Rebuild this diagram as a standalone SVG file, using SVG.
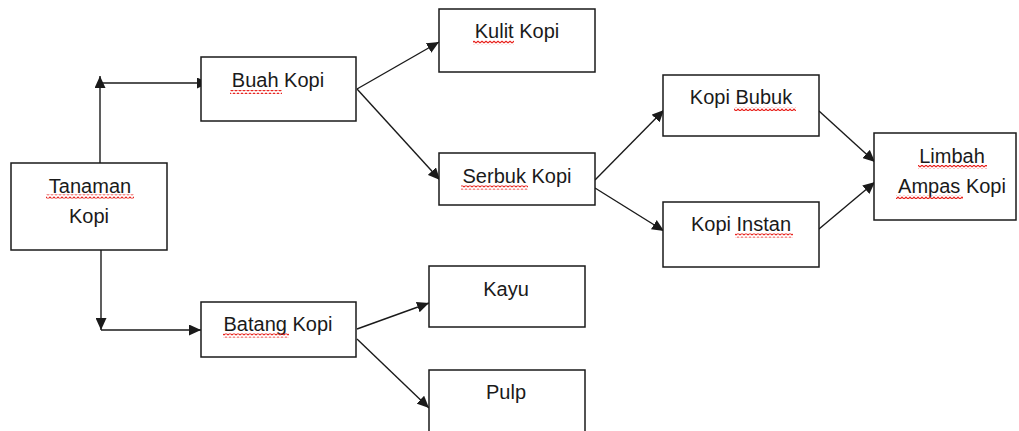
<svg xmlns="http://www.w3.org/2000/svg" width="1019" height="431" viewBox="0 0 1019 431">
<style>
.box{fill:#fff;stroke:#1a1a1a;stroke-width:1.5}
.lbl{font-family:"Liberation Sans",Arial,sans-serif;font-size:20px;fill:#1a1a1a;text-anchor:middle}
.con{fill:none;stroke:#1a1a1a;stroke-width:1.4}
.sq{fill:url(#squig)}
</style>
<defs>
<marker id="ah" markerUnits="userSpaceOnUse" markerWidth="13" markerHeight="11" refX="12" refY="5.5" orient="auto">
<path d="M0,0 L12,5.5 L0,11 z" fill="#1a1a1a"/>
</marker>
<pattern id="squig" patternUnits="userSpaceOnUse" width="4" height="4">
<path d="M0,3 L2,1 L4,3" fill="none" stroke="#e8201a" stroke-width="1.2"/>
</pattern>
</defs>
<rect width="1019" height="431" fill="#fff"/>
<g id="connectors">
<path class="con" d="M100,163 L100,76" marker-end="url(#ah)"/>
<path class="con" d="M100,83 L209,83" marker-end="url(#ah)"/>
<path class="con" d="M101,250 L101,330" marker-end="url(#ah)"/>
<path class="con" d="M101,330 L201,330" marker-end="url(#ah)"/>
<path class="con" d="M357,89 L439,42" marker-end="url(#ah)"/>
<path class="con" d="M357,89 L440,180" marker-end="url(#ah)"/>
<path class="con" d="M595,180 L664,110" marker-end="url(#ah)"/>
<path class="con" d="M595,188 L664,231" marker-end="url(#ah)"/>
<path class="con" d="M819,111 L875,162" marker-end="url(#ah)"/>
<path class="con" d="M819,229 L875,182" marker-end="url(#ah)"/>
<path class="con" d="M357,329 L429,303" marker-end="url(#ah)"/>
<path class="con" d="M357,339 L429,408" marker-end="url(#ah)"/>
</g>
<g id="tanaman">
<rect class="box" x="11" y="163" width="156" height="87"/>
<text class="lbl" x="90" y="193">Tanaman</text>
<text class="lbl" x="89" y="223">Kopi</text>
<rect class="sq" x="46" y="194.5" width="88" height="4"/>
</g>
<g id="buah">
<rect class="box" x="201" y="57" width="155" height="64"/>
<text class="lbl" x="278" y="87">Buah Kopi</text>
<rect class="sq" x="230" y="90" width="52" height="4"/>
</g>
<g id="kulit">
<rect class="box" x="439" y="9" width="156" height="63"/>
<text class="lbl" x="517" y="38">Kulit Kopi</text>
<rect class="sq" x="473" y="40.5" width="41" height="4"/>
</g>
<g id="serbuk">
<rect class="box" x="439" y="153" width="156" height="52"/>
<text class="lbl" x="517" y="183">Serbuk Kopi</text>
<rect class="sq" x="461" y="185.5" width="67" height="4"/>
</g>
<g id="bubuk">
<rect class="box" x="663" y="75" width="156" height="61"/>
<text class="lbl" x="741" y="104">Kopi Bubuk</text>
<rect class="sq" x="734" y="107" width="62" height="4"/>
</g>
<g id="instan">
<rect class="box" x="663" y="202" width="156" height="65"/>
<text class="lbl" x="741" y="231">Kopi Instan</text>
<rect class="sq" x="735" y="233.5" width="58" height="4"/>
</g>
<g id="limbah">
<rect class="box" x="874" y="133" width="142" height="87"/>
<text class="lbl" x="952" y="163">Limbah</text>
<text class="lbl" x="952" y="193">Ampas Kopi</text>
<rect class="sq" x="918" y="165" width="69" height="4"/>
<rect class="sq" x="896" y="195" width="67" height="4"/>
</g>
<g id="batang">
<rect class="box" x="201" y="302" width="155" height="55"/>
<text class="lbl" x="278" y="331">Batang Kopi</text>
<rect class="sq" x="223" y="333.5" width="66" height="4"/>
</g>
<g id="kayu">
<rect class="box" x="429" y="266" width="156" height="61"/>
<text class="lbl" x="506" y="296">Kayu</text>
</g>
<g id="pulp">
<rect class="box" x="429" y="370" width="156" height="80"/>
<text class="lbl" x="506" y="399">Pulp</text>
</g>
</svg>
